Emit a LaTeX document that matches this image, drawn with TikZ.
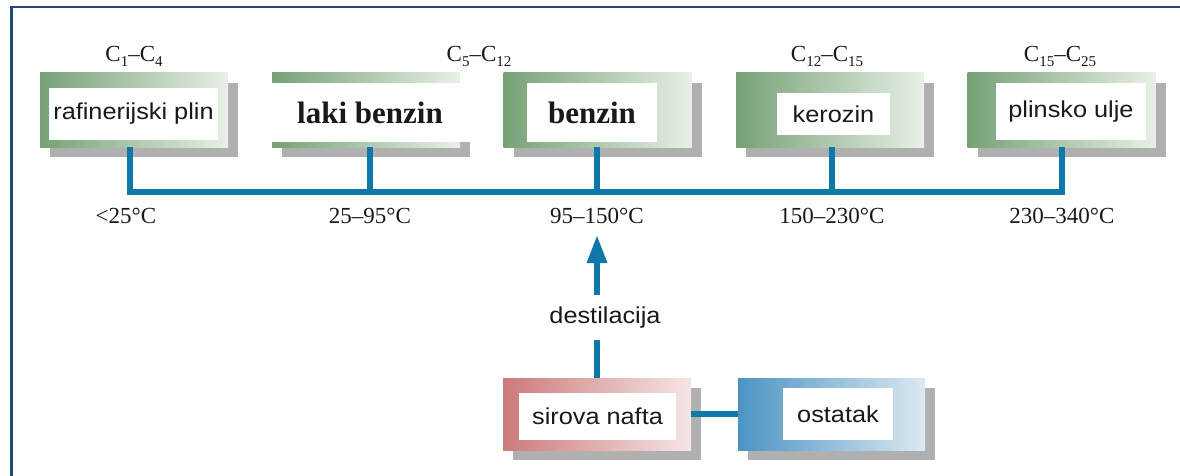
\documentclass[tikz,border=0pt]{standalone}
\usepackage{fontspec}
\setmainfont{Liberation Serif}
\newfontfamily\boxfont[FakeStretch=1.1]{Liberation Sans}
\usetikzlibrary{arrows.meta,shadows,calc}

\definecolor{navy}{RGB}{31,75,122}
\definecolor{pipe}{RGB}{16,120,168}
\definecolor{greenL}{RGB}{118,162,118}
\definecolor{greenR}{RGB}{232,240,230}
\definecolor{redL}{RGB}{204,122,122}
\definecolor{redR}{RGB}{246,230,230}
\definecolor{blueL}{RGB}{76,148,196}
\definecolor{blueR}{RGB}{220,233,242}
\definecolor{shadowgray}{RGB}{176,176,176}
\definecolor{ink}{RGB}{25,25,25}

% lowered small figures for carbon numbers
\newcommand\csub[1]{\raisebox{-0.4ex}{\fontsize{15}{15}\selectfont #1}}

\tikzset{
  frame/.style={shade, shading angle=90, inner sep=0pt,
    minimum width=188pt, minimum height=74pt,
    drop shadow={shadow xshift=10pt, shadow yshift=-10pt,
      fill=shadowgray, opacity=1}},
  greenframe/.style={frame, left color=greenL, right color=greenR},
  redframe/.style={frame, left color=redL, right color=redR, minimum height=72pt},
  blueframe/.style={frame, left color=blueL, right color=blueR, minimum height=72pt, minimum width=187pt},
  label/.style={fill=white, inner sep=0pt, text=ink},
  sanslabel/.style={label, font=\boxfont\fontsize{23}{23}\selectfont},
  boldlabel/.style={label, font=\bfseries\fontsize{31}{31}\selectfont},
  pipeline/.style={draw=pipe, line width=6pt},
  temp/.style={text=ink, inner sep=0pt, anchor=base, font=\fontsize{23}{23}\selectfont},
  carbon/.style={text=ink, inner sep=0pt, anchor=base, font=\fontsize{23}{23}\selectfont},
}

\begin{document}
\begin{tikzpicture}[x=1pt, y=-1pt]
  \useasboundingbox (0,0) rectangle (1180,476);
  \fill[white] (0,0) rectangle (1180,476);
  \draw[navy, line width=2.5pt] (11.5,476) -- (11.5,7) -- (1180,7);

  % fraction boxes
  \node[greenframe] (f1) at (134,110) {};
  \node[greenframe] (f2) at (366,110) {};
  \node[greenframe] (f3) at (597.5,110) {};
  \node[greenframe] (f4) at (830,110) {};
  \node[greenframe] (f5) at (1061.5,110) {};

  \node[sanslabel, minimum width=169pt, minimum height=52pt] (t1) at (133.5,114) {rafinerijski plin};
  \node[boldlabel, minimum width=200pt, minimum height=59pt] (t2) at (370,112.5) {laki benzin\hspace{12pt}};
  \node[boldlabel, minimum width=130pt, minimum height=59pt] (t3) at (592,112.5) {benzin};
  \node[sanslabel, minimum width=113pt, minimum height=42pt] (t4) at (833.5,114) {kerozin};
  \node[sanslabel, minimum width=150pt, minimum height=57pt] (t5) at (1071,111.5) {plinsko ulje};

  % carbon ranges
  \node[carbon] (c1) at (134,62) {C\csub{1}–C\csub{4}};
  \node[carbon] (c2) at (479,62) {C\csub{5}–C\csub{12}};
  \node[carbon] (c3) at (827,62) {C\csub{12}–C\csub{15}};
  \node[carbon] (c4) at (1060,62) {C\csub{15}–C\csub{25}};

  % collecting line
  \coordinate (b1) at (130,192);
  \coordinate (b2) at (370,192);
  \coordinate (b3) at (597,192);
  \coordinate (b4) at (832,192);
  \coordinate (b5) at (1062,192);
  \draw[pipeline] (f1.south -| b1) -- (b1) -- (b5) -- (f5.south -| b5);
  \draw[pipeline] (f2.south -| b2) -- (b2);
  \draw[pipeline] (f3.south -| b3) -- (b3);
  \draw[pipeline] (f4.south -| b4) -- (b4);

  % boiling ranges
  \node[temp] (d1) at (126,223) {<25°C};
  \node[temp] (d2) at (370,223) {25–95°C};
  \node[temp] (d3) at (597,223) {95–150°C};
  \node[temp] (d4) at (832,223) {150–230°C};
  \node[temp] (d5) at (1062,223) {230–340°C};

  % crude oil and residue
  \node[redframe] (f6) at (597,414) {};
  \node[blueframe] (f7) at (831.5,414) {};
  \node[sanslabel, minimum width=157pt, minimum height=47pt] (t6) at (597.5,416.5) {sirova nafta};
  \node[sanslabel, minimum width=110pt, minimum height=52pt] (t7) at (838,414) {ostatak};
  \draw[pipeline] (f6.east) -- (f7.west);

  % distillation arrow
  \coordinate (tip) at (597,235);
  \node[text=ink, inner sep=0pt, minimum height=45pt, font=\boxfont\fontsize{23}{23}\selectfont] (dl) at (605,317.5) {destilacija};
  \draw[pipeline] (f6.north) -- (f6.north |- dl.south);
  \draw[pipeline, -{Triangle[width=19pt, length=28pt]}] (f6.north |- dl.north) -- (tip);
\end{tikzpicture}
\end{document}
